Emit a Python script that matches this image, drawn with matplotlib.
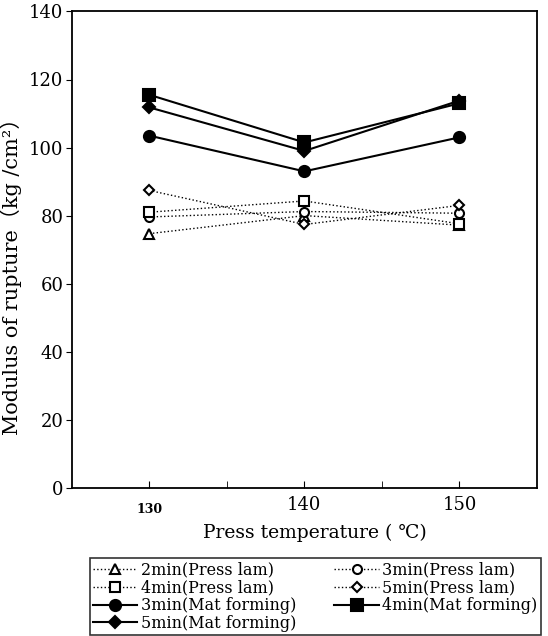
import numpy as np
import matplotlib
matplotlib.use("Agg")
import matplotlib.pyplot as plt

plt.rcParams['font.family'] = ['DejaVu Serif', 'Noto Sans CJK JP', 'DejaVu Sans']

temps = [130, 140, 150]

press_2min = [74.7, 80.0, 77.2]
press_3min = [79.6, 81.2, 80.7]
press_4min = [81.0, 84.3, 77.6]
press_5min = [87.4, 77.4, 83.0]
mat_3min = [103.5, 93.0, 103.0]
mat_4min = [115.5, 101.5, 113.0]
mat_5min = [111.8, 99.0, 113.8]

series = [
    ("2min(Press lam)", press_2min, '^', ':', 'white'),
    ("3min(Press lam)", press_3min, 'o', ':', 'white'),
    ("4min(Press lam)", press_4min, 's', ':', 'white'),
    ("5min(Press lam)", press_5min, 'D', ':', 'white'),
    ("3min(Mat forming)", mat_3min, 'o', '-', 'black'),
    ("4min(Mat forming)", mat_4min, 's', '-', 'black'),
    ("5min(Mat forming)", mat_5min, 'D', '-', 'black'),
]

fig = plt.figure(figsize=(5.48, 6.36), dpi=100)
ax = fig.add_axes([0.131, 0.233, 0.849, 0.749])

handles = []
for label, vals, mk, ls, fc in series:
    solid = ls == '-'
    ms = 8 if solid else 6.5
    if mk == 'D':
        ms -= 1.5
    h, = ax.plot(temps, vals, linestyle=ls, color='black',
                 linewidth=1.5 if solid else 1.0,
                 marker=mk, markersize=ms, markerfacecolor=fc,
                 markeredgecolor='black', markeredgewidth=1.5,
                 label=label)
    handles.append(h)

ax.set_xlim(125, 155)
ax.set_ylim(0, 140)
ax.set_xticks([130, 140, 150])
ax.set_xticks([135, 145], minor=True)
ax.set_xticklabels(['130', '140', '150'], fontsize=13)
ax.set_yticks(np.arange(0, 141, 20))
ax.tick_params(axis='y', direction='out', length=4, labelsize=13, pad=2)
ax.tick_params(axis='x', which='both', direction='in', length=5, pad=6)
# the 130 label is printed smaller in bold
lab130 = ax.get_xticklabels()[0]
lab130.set_fontsize(9)
lab130.set_fontweight('bold')
lab130.set_y(-0.015)

for sp in ax.spines.values():
    sp.set_linewidth(1.3)

ax.set_ylabel("Modulus of rupture（kg /cm²）", fontsize=15)
ax.yaxis.set_label_coords(-0.108, 0.455)
ax.set_xlabel("Press temperature ( ℃)", fontsize=13.5)
ax.xaxis.set_label_coords(0.523, -0.076)

order = [0, 2, 4, 6, 1, 3, 5]
leg = fig.legend([handles[i] for i in order], [series[i][0] for i in order],
                 ncol=2, loc='lower left',
                 bbox_to_anchor=(0.162, 0.0, 0.826, 0.117), mode='expand',
                 fontsize=11.5, frameon=True, fancybox=False,
                 edgecolor='black', handlelength=2.8, handletextpad=0.2,
                 labelspacing=0.05, borderpad=0.2, borderaxespad=0.05,
                 columnspacing=0.6)
leg.get_frame().set_linewidth(1.2)

fig.savefig("out.png", dpi=100)
